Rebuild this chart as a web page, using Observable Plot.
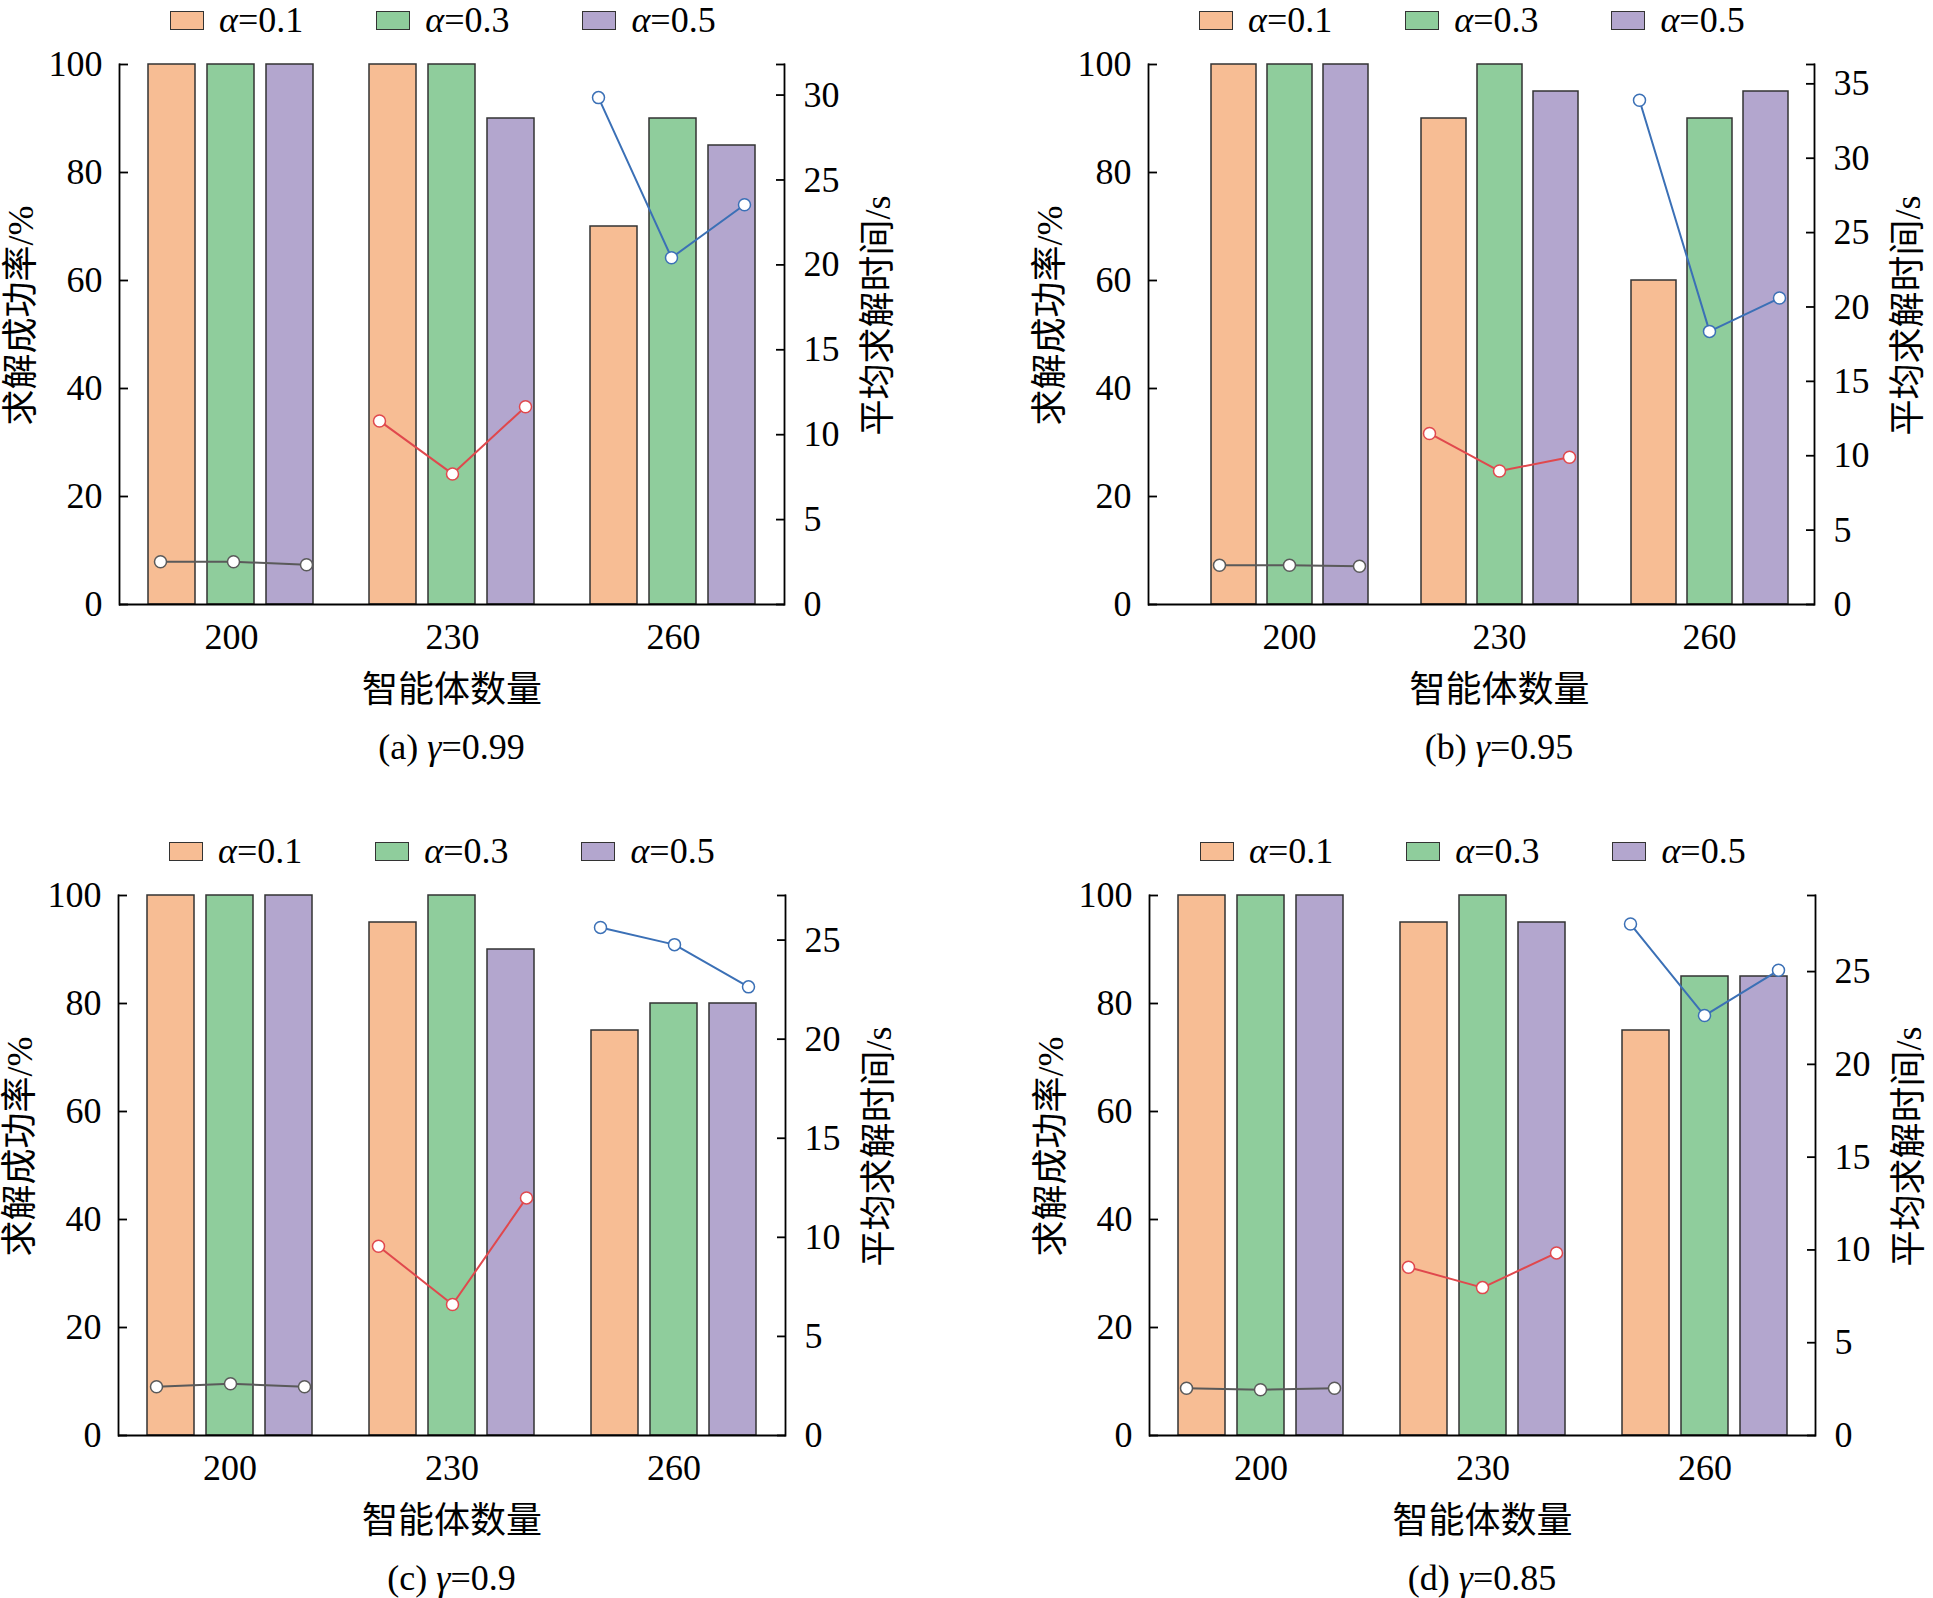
<!DOCTYPE html>
<html><head><meta charset="utf-8">
<script src="https://cdn.jsdelivr.net/npm/d3@7"></script>
<script src="https://cdn.jsdelivr.net/npm/@observablehq/plot@0.6"></script>
<style>
html,body{margin:0;padding:0;background:#fff;}
body{width:1933px;height:1598px;position:relative;overflow:hidden;font-family:'Liberation Serif','Times New Roman','DejaVu Serif','Noto Sans CJK SC',serif;color:#000;}
.panel{position:absolute;}
.layer{position:absolute;left:0;top:0;}
.legend{position:absolute;display:flex;align-items:center;font-size:36px;height:40px;white-space:nowrap;}
.item{display:flex;align-items:center;margin-right:73px;}
.sw{width:34px;height:19px;border:1.5px solid #333;box-sizing:border-box;margin-right:15px;}
.caption{position:absolute;font-size:36px;line-height:40px;white-space:nowrap;transform:translateX(-50%);}
</style></head><body>
<script>
// ---- data ----
const groups = ["200", "230", "260"];
const alphaLabels = ["0.1", "0.3", "0.5"];
const barColors = ["#F7BD94", "#8FCD9C", "#B3A6CE"];
const lineColors = ["#5A5A5A", "#E0484D", "#3B70B6"];
const panelTags = ["(a)", "(b)", "(c)", "(d)"];
const gammaLabels = ["0.99", "0.95", "0.9", "0.85"];
const xTitle = "智能体数量";
const leftTitle = "求解成功率/%";
const rightTitle = "平均求解时间/s";
const leftTicks = [0, 20, 40, 60, 80, 100];

// success rate (%) — order: group 200 (α=0.1,0.3,0.5), 230 (...), 260 (...)
const successA = [100, 100, 100, 100, 100, 90, 70, 90, 85];
const successB = [100, 100, 100, 90, 100, 95, 60, 90, 95];
const successC = [100, 100, 100, 95, 100, 90, 75, 80, 80];
const successD = [100, 100, 100, 95, 100, 95, 75, 85, 85];
// average solve time (s)
const timeA = [2.52, 2.52, 2.34, 10.81, 7.69, 11.65, 29.85, 20.42, 23.54];
const timeB = [2.64, 2.64, 2.57, 11.5, 8.97, 9.9, 33.9, 18.36, 20.6];
const timeC = [2.46, 2.61, 2.46, 9.55, 6.61, 11.99, 25.64, 24.77, 22.64];
const timeD = [2.55, 2.47, 2.55, 9.07, 7.97, 9.84, 27.56, 22.63, 25.07];
// right axis
const rightMaxes = [31.8, 36.3, 27.25, 29.1];
const rightTicksA = [0, 5, 10, 15, 20, 25, 30];
const rightTicksB = [0, 5, 10, 15, 20, 25, 30, 35];
const rightTicksC = [0, 5, 10, 15, 20, 25];
const rightTicksD = [0, 5, 10, 15, 20, 25];

const successAll = [successA, successB, successC, successD];
const timeAll = [timeA, timeB, timeC, timeD];
const rightTicksAll = [rightTicksA, rightTicksB, rightTicksC, rightTicksD];

// ---- layout ----
const W = 966, H = 675, MT = 25, MB = 110, FH = H - MT - MB;
const layout = [
  {left: 0, frameTop: 64, ml: 119, mr: 182, inset: 0},
  {left: 966, frameTop: 64, ml: 182, mr: 118, inset: 36},
  {left: 0, frameTop: 895, ml: 118, mr: 181, inset: 0},
  {left: 966, frameTop: 895, ml: 183, mr: 117, inset: 0}
];
const FONT = "'Liberation Serif','Times New Roman','DejaVu Serif','Noto Sans CJK SC',serif";
const style = {background: "transparent", fontFamily: FONT, fontSize: "36px", color: "#000", overflow: "visible"};
const keys = groups.flatMap(g => alphaLabels.map(a => g + "|" + a));

layout.forEach((g, i) => {
  const rows = groups.flatMap((grp, gi) => alphaLabels.map((a, ai) => ({
    group: grp, alpha: a, key: grp + "|" + a,
    success: successAll[i][gi * 3 + ai], time: timeAll[i][gi * 3 + ai]
  })));
  const rMax = rightMaxes[i];
  const rTicks = rightTicksAll[i];
  const common = {width: W, height: H, marginTop: MT, marginBottom: MB, marginLeft: g.ml, marginRight: g.mr, style};

  const bars = Plot.plot({
    ...common,
    fx: {domain: groups, paddingInner: 0.25, paddingOuter: 0.125, insetLeft: g.inset, label: null},
    x: {domain: alphaLabels, paddingInner: 0.2, paddingOuter: 0, axis: null},
    y: {domain: [0, 100], axis: null},
    color: {domain: alphaLabels, range: barColors},
    marks: [
      Plot.barY(rows, {fx: "group", x: "alpha", y: "success", fill: "alpha", stroke: "#333", strokeWidth: 1.5}),
      Plot.axisFx({anchor: "bottom", tickSize: 0, tickPadding: 19, label: null})
    ]
  });

  const axes = Plot.plot({
    ...common,
    y: {domain: [0, 100], axis: null},
    marks: [
      Plot.frame({anchor: "left", stroke: "#000", strokeWidth: 1.8}),
      Plot.ruleY([0], {stroke: "#000", strokeWidth: 1.8}),
      Plot.axisY(leftTicks, {anchor: "left", tickSize: -9, tickPadding: 26, strokeWidth: 1.8, label: null}),
      Plot.text([leftTitle], {frameAnchor: "left", textAnchor: "middle", lineAnchor: "middle", dx: -98, dy: -19, rotate: -90})
    ]
  });

  const lines = Plot.plot({
    ...common,
    x: {type: "point", domain: keys, padding: 0.5, insetLeft: g.inset, axis: null},
    y: {domain: [0, rMax], axis: null},
    color: {domain: groups, range: lineColors},
    marks: [
      Plot.frame({anchor: "right", stroke: "#000", strokeWidth: 1.8}),
      Plot.axisY([...rTicks, rMax], {anchor: "right", tickSize: -9, tickPadding: 28, strokeWidth: 1.8,
        tickFormat: d => rTicks.includes(d) ? String(d) : "", label: null}),
      Plot.line(rows, {x: "key", y: "time", z: "group", stroke: "group", strokeWidth: 2}),
      Plot.dot(rows, {x: "key", y: "time", stroke: "group", fill: "white", r: 6, strokeWidth: 1.5}),
      Plot.text([rightTitle], {frameAnchor: "right", textAnchor: "middle", lineAnchor: "middle", dx: 94, dy: -19, rotate: -90}),
      Plot.text([xTitle], {frameAnchor: "bottom", textAnchor: "middle", lineAnchor: "middle", dx: g.inset / 2, dy: 86})
    ]
  });

  const panel = document.createElement("div");
  panel.className = "panel";
  panel.style.left = g.left + "px";
  panel.style.top = (g.frameTop - MT) + "px";
  panel.style.width = W + "px";
  panel.style.height = H + "px";
  [bars, axes, lines].forEach(svg => { svg.classList.add("layer"); panel.appendChild(svg); });
  document.body.appendChild(panel);

  // legend
  const legend = d3.select(document.body).append("div").attr("class", "legend")
    .style("left", (g.left + g.ml + 51) + "px")
    .style("top", (g.frameTop - 44 - 20) + "px");
  alphaLabels.forEach((a, ai) => {
    const it = legend.append("div").attr("class", "item");
    it.append("div").attr("class", "sw").style("background", barColors[ai]);
    const t = it.append("span");
    t.append("i").text("α");
    t.append("span").text("=" + a);
  });

  // caption
  const cx = g.left + g.ml + g.inset / 2 + (W - g.ml - g.mr) / 2;
  const cap = d3.select(document.body).append("div").attr("class", "caption")
    .style("left", cx + "px")
    .style("top", (g.frameTop + FH + 143 - 20) + "px");
  cap.append("span").text(panelTags[i] + " ");
  cap.append("i").text("γ");
  cap.append("span").text("=" + gammaLabels[i]);
});
</script>
</body></html>
